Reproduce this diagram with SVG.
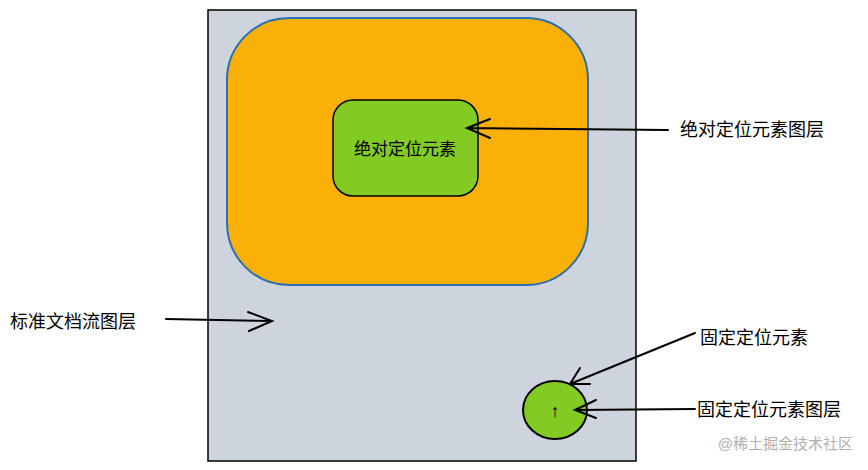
<svg xmlns="http://www.w3.org/2000/svg" width="868" height="470" viewBox="0 0 868 470">
<style>
text{font-family:"Liberation Sans","Noto Sans CJK SC",sans-serif;font-size:18px;fill:#000}
.c{stroke:#000;stroke-width:2;fill:none;stroke-linecap:round}
</style>
<rect width="868" height="470" fill="#fff"/>
<g id="doc"><rect x="208" y="10" width="428" height="451" fill="#ced4dd" stroke="#000" stroke-width="1.5"/></g>
<g id="abs-layer"><rect x="227" y="18" width="361" height="267" rx="62" fill="#fbb007" stroke="#2a6fb0" stroke-width="2"/></g>
<g id="abs"><rect x="333" y="100" width="145" height="96" rx="20" fill="#82cb22" stroke="#000" stroke-width="1.5"/>
<text x="405" y="155" text-anchor="middle" style="font-size:17px">绝对定位元素</text></g>
<g id="fixed"><ellipse cx="555" cy="410" rx="32" ry="29" fill="#82cb22" stroke="#000" stroke-width="2"/>
<text x="555" y="417" text-anchor="middle">↑</text></g>
<g id="labels">
<text x="680" y="136">绝对定位元素图层</text>
<text x="10" y="328">标准文档流图层</text>
<text x="700" y="344">固定定位元素</text>
<text x="697" y="416">固定定位元素图层</text>
<text x="853" y="449" text-anchor="end" style="fill:#b0b0b0;font-size:15px">@稀土掘金技术社区</text>
</g>
<g id="connectors">
<path class="c" d="M668 130 L467 128 M490 119 L467 128 L490 138"/>
<path class="c" d="M166 319 L272 321 M248 312 L272 321 L249 331"/>
<path class="c" d="M695 333 L570 384 M580 368 L570 384 L590 384"/>
<path class="c" d="M695 409 L575 410 M596 400 L575 410 L596 418"/>
</g>
</svg>
